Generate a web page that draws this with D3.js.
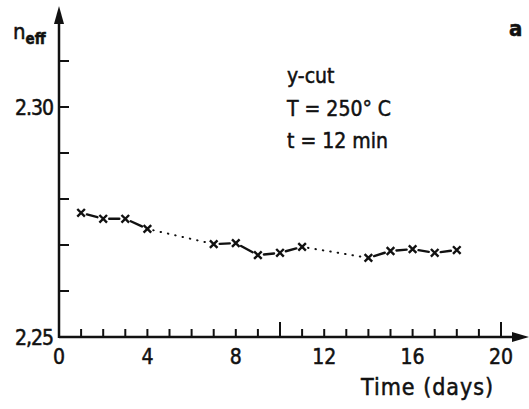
<!DOCTYPE html>
<html>
<head>
<meta charset="utf-8">
<script src="https://cdn.jsdelivr.net/npm/d3@7"></script>
<style>
  body { margin: 0; background: #fff; }
  text { font-family: "DejaVu Sans Condensed", "Liberation Sans Narrow", sans-serif; fill: #111; stroke: #111; stroke-width: 0.5; }
</style>
</head>
<body>
<svg width="529" height="409"></svg>
<script>
// data
const days   = [1, 2, 3, 4, 7, 8, 9, 10, 11, 14, 15, 16, 17, 18];
const nEff   = [2.2770, 2.2757, 2.2757, 2.2735, 2.2702, 2.2704, 2.2678, 2.2683, 2.2696, 2.2672, 2.2687, 2.2691, 2.2683, 2.2689];
// segments after these days are drawn dotted (gap in measurements)
const dottedAfter = [4, 11];
const xTickLabels = [0, 4, 8, 12, 16, 20];
const yTickLabels = [{v: 2.30, t: "2.30"}, {v: 2.25, t: "2,25"}];
const notes = ["y-cut", "T = 250° C", "t = 12 min"];

const svg = d3.select("svg");
const ink = "#111";

const x = d3.scaleLinear().domain([0, 20]).range([59, 501]);
const y = d3.scaleLinear().domain([2.25, 2.31]).range([337, 61]);

// axes lines
svg.append("line").attr("x1", x(0)).attr("x2", 520).attr("y1", y(2.25)).attr("y2", y(2.25))
    .attr("stroke", ink).attr("stroke-width", 2.5);
svg.append("line").attr("x1", x(0)).attr("x2", x(0)).attr("y1", y(2.25) + 1).attr("y2", 20)
    .attr("stroke", ink).attr("stroke-width", 2.5);
// arrow heads
svg.append("path").attr("d", `M${x(0) - 5},24 L${x(0)},6 L${x(0) + 5},24 Z`).attr("fill", ink);
svg.append("path").attr("d", `M512,${y(2.25) - 5} L529,${y(2.25)} L512,${y(2.25) + 5} Z`).attr("fill", ink);

// x ticks, every day; long ones at 10 and 20
svg.append("g").selectAll("line")
    .data(d3.range(1, 21))
    .join("line")
    .attr("x1", d => x(d)).attr("x2", d => x(d))
    .attr("y1", y(2.25)).attr("y2", d => y(2.25) - (d % 10 === 0 ? 15 : 8))
    .attr("stroke", ink).attr("stroke-width", 2);

svg.append("g").selectAll("text")
    .data(xTickLabels)
    .join("text")
    .attr("x", d => x(d)).attr("y", 364)
    .attr("text-anchor", "middle").attr("font-size", 21)
    .text(d => d);

// y ticks every 0.01
svg.append("g").selectAll("line")
    .data(d3.range(1, 7).map(i => 2.25 + i * 0.01))
    .join("line")
    .attr("x1", x(0)).attr("x2", x(0) + 10)
    .attr("y1", d => y(d)).attr("y2", d => y(d))
    .attr("stroke", ink).attr("stroke-width", 2);

svg.append("g").selectAll("text")
    .data(yTickLabels)
    .join("text")
    .attr("x", 53).attr("y", d => y(d.v) + 8)
    .attr("text-anchor", "end").attr("font-size", 21).attr("letter-spacing", -1)
    .text(d => d.t);

// axis titles
const yl = svg.append("text").attr("x", 13).attr("y", 39).attr("font-size", 22);
yl.append("tspan").text("n");
yl.append("tspan").attr("dy", 5).attr("font-size", 15).attr("font-weight", "bold").text("eff");

svg.append("text").attr("x", 361).attr("y", 395).attr("font-size", 23)
    .attr("letter-spacing", 1).text("Time (days)");

svg.append("text").attr("x", 509).attr("y", 36).attr("font-size", 22)
    .attr("font-weight", "bold").text("a");

svg.append("g").selectAll("text")
    .data(notes)
    .join("text")
    .attr("x", 287).attr("y", (d, i) => 83 + i * 32.5)
    .attr("font-size", 21)
    .text(d => d);

// connecting segments, trimmed so they don't run into the markers
const pts = days.map((d, i) => [x(d), y(nEff[i])]);
const segs = d3.range(pts.length - 1).map(i => {
    const [x0, y0] = pts[i], [x1, y1] = pts[i + 1];
    const len = Math.hypot(x1 - x0, y1 - y0), ux = (x1 - x0) / len, uy = (y1 - y0) / len;
    const gap = 6;
    return {x0: x0 + ux * gap, y0: y0 + uy * gap, x1: x1 - ux * gap, y1: y1 - uy * gap,
            dotted: dottedAfter.includes(days[i])};
});
svg.append("g").selectAll("line")
    .data(segs)
    .join("line")
    .attr("x1", d => d.x0).attr("y1", d => d.y0)
    .attr("x2", d => d.x1).attr("y2", d => d.y1)
    .attr("stroke", ink)
    .attr("stroke-width", d => d.dotted ? 2 : 2.4)
    .attr("stroke-linecap", "round")
    .attr("stroke-dasharray", d => d.dotted ? "0.5,7" : null);

// x markers
const s = 3.8;
svg.append("g").selectAll("path")
    .data(pts)
    .join("path")
    .attr("d", d => `M${d[0] - s},${d[1] - s}L${d[0] + s},${d[1] + s}M${d[0] - s},${d[1] + s}L${d[0] + s},${d[1] - s}`)
    .attr("stroke", ink).attr("stroke-width", 2.4);
</script>
</body>
</html>
